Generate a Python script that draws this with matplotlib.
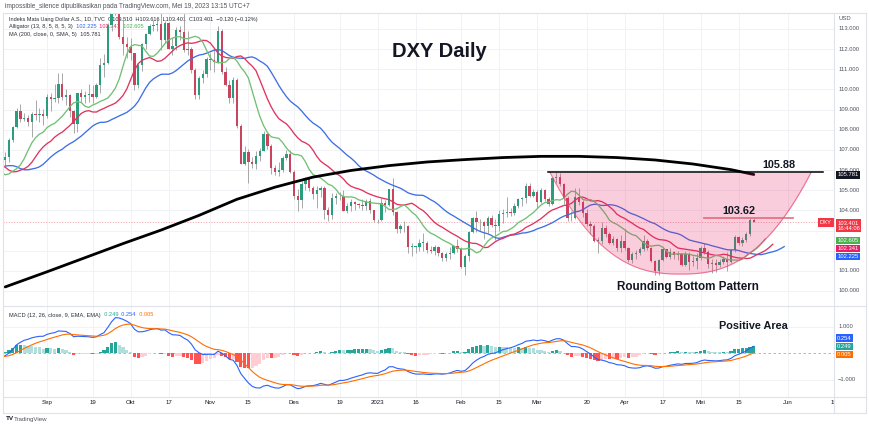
import numpy as np
import pandas as pd
import matplotlib
matplotlib.use("Agg")
import matplotlib.pyplot as plt
import matplotlib.transforms as mtrans
from matplotlib.lines import Line2D

plt.rcParams['font.family'] = ['Liberation Sans', 'DejaVu Sans']

# ---------------- data (O, H, L, C) ----------------
aug22 = [
    (105.70, 106.90, 105.50, 106.60), (106.60, 106.70, 106.10, 106.35), (106.35, 106.50, 106.00, 106.25),
    (106.30, 106.40, 104.65, 105.20), (105.20, 105.30, 104.65, 105.10), (105.10, 105.70, 104.95, 105.60),
    (105.60, 106.60, 105.40, 106.50), (106.50, 106.80, 106.20, 106.50), (106.50, 106.90, 106.20, 106.65),
    (106.65, 107.60, 106.40, 107.50), (107.50, 108.20, 107.40, 108.15), (108.15, 109.10, 108.10, 108.95),
    (108.95, 109.30, 108.40, 108.55), (108.55, 108.85, 108.45, 108.60), (108.60, 108.75, 108.20, 108.40),
    (108.40, 108.90, 107.65, 108.80), (108.80, 109.50, 108.50, 108.75), (108.75, 109.10, 108.40, 108.80),
    (108.80, 109.05, 108.25, 108.70)]
sep22 = [
    (108.70, 109.75, 108.60, 109.65), (109.65, 109.80, 108.95, 109.55), (109.55, 110.25, 109.40, 109.60),
    (109.60, 110.80, 109.35, 110.25), (110.25, 110.80, 109.50, 109.65), (109.65, 110.00, 109.25, 109.70),
    (109.70, 109.75, 108.65, 108.95), (108.95, 109.00, 107.85, 108.30), (108.30, 109.80, 107.90, 109.80),
    (109.80, 110.00, 109.40, 109.65), (109.65, 109.90, 109.35, 109.70), (109.70, 110.25, 109.40, 109.75),
    (109.75, 110.20, 109.35, 109.65), (109.65, 110.30, 109.60, 110.20), (110.20, 111.55, 109.80, 111.20),
    (111.20, 111.75, 110.60, 111.30), (111.30, 113.30, 111.25, 113.20), (113.20, 114.55, 112.90, 114.10),
    (114.10, 114.60, 113.70, 114.10), (114.10, 114.78, 112.50, 112.60), (112.60, 113.50, 111.70, 112.25),
    (112.25, 112.60, 111.55, 112.10)]
oct22 = [
    (112.10, 112.55, 111.45, 111.80), (111.80, 111.80, 109.95, 110.20), (110.20, 111.30, 110.05, 111.20),
    (111.20, 112.30, 110.90, 112.25), (112.25, 112.80, 112.00, 112.75), (112.75, 113.25, 112.70, 113.15),
    (113.15, 113.45, 112.90, 113.20), (113.20, 113.55, 112.90, 113.25), (113.25, 113.90, 111.95, 112.45),
    (112.45, 113.40, 112.30, 113.30), (113.30, 113.35, 112.00, 112.00), (112.00, 112.55, 111.70, 112.15),
    (112.15, 113.10, 111.95, 112.95), (112.95, 113.15, 112.45, 112.85), (112.85, 113.90, 111.85, 111.95),
    (111.95, 112.90, 111.70, 112.00), (112.00, 112.10, 110.80, 110.95), (110.95, 111.05, 109.55, 109.70),
    (109.70, 110.65, 109.55, 110.55), (110.55, 110.95, 110.30, 110.75), (110.75, 111.60, 110.60, 111.50)]
nov22 = [
    (111.50, 111.80, 110.95, 111.45), (111.45, 112.05, 110.85, 111.35), (111.35, 113.15, 111.30, 112.90),
    (112.90, 113.00, 110.75, 110.85), (110.85, 111.10, 110.15, 110.20), (110.20, 110.45, 109.35, 109.60),
    (109.60, 110.60, 109.35, 110.45), (110.45, 110.55, 108.10, 108.20), (108.20, 108.30, 106.30, 106.30),
    (106.30, 107.20, 106.25, 106.90), (106.90, 107.05, 105.35, 106.40), (106.40, 106.65, 106.10, 106.30),
    (106.30, 106.95, 106.05, 106.70), (106.70, 107.10, 106.45, 106.95), (106.95, 107.95, 106.95, 107.80),
    (107.80, 107.85, 107.05, 107.20), (107.20, 107.30, 105.80, 106.10), (106.10, 106.25, 105.75, 105.90),
    (105.90, 106.40, 105.70, 106.00), (106.00, 106.70, 105.90, 106.60), (106.60, 107.00, 106.50, 106.80),
    (106.80, 107.00, 105.85, 105.90)]
dec22 = [
    (105.90, 106.00, 104.55, 104.70), (104.70, 105.05, 103.95, 104.50), (104.50, 105.45, 104.10, 105.30),
    (105.30, 105.65, 105.00, 105.60), (105.60, 105.60, 104.95, 105.10), (105.10, 105.20, 104.55, 104.80),
    (104.80, 105.20, 104.10, 105.00), (105.00, 105.20, 104.65, 105.10), (105.10, 105.20, 103.55, 104.00),
    (104.00, 104.15, 103.45, 103.75), (103.75, 104.85, 103.55, 104.60), (104.60, 104.85, 104.30, 104.70),
    (104.70, 104.90, 104.50, 104.70), (104.70, 105.00, 103.95, 103.95), (103.95, 104.35, 103.85, 104.20),
    (104.20, 104.55, 103.95, 104.40), (104.40, 104.45, 104.00, 104.30), (104.30, 104.35, 104.10, 104.25),
    (104.25, 104.55, 104.00, 104.20), (104.20, 104.55, 104.00, 104.45), (104.45, 104.60, 103.85, 104.00),
    (104.00, 104.00, 103.40, 103.50)]
jan23 = [
    (103.50, 103.55, 103.35, 103.50), (103.50, 104.60, 103.45, 104.35), (104.35, 104.50, 103.90, 104.25),
    (104.25, 105.05, 104.20, 105.05), (105.05, 105.60, 103.75, 103.90), (103.90, 103.95, 102.90, 103.05),
    (103.05, 103.30, 102.90, 103.20), (103.20, 103.45, 102.95, 103.20), (103.20, 103.25, 101.90, 102.20),
    (102.20, 102.40, 101.75, 102.20), (102.20, 102.25, 101.90, 102.20), (102.20, 102.60, 102.00, 102.40),
    (102.40, 102.90, 102.00, 102.40), (102.40, 102.50, 101.90, 102.05), (102.05, 102.25, 101.90, 102.00),
    (102.00, 102.30, 101.80, 102.20), (102.20, 102.25, 101.75, 101.90), (101.90, 101.95, 101.50, 101.65),
    (101.65, 101.95, 101.50, 101.85), (101.85, 102.20, 101.60, 101.90), (101.90, 102.30, 101.85, 102.25),
    (102.25, 102.60, 101.95, 102.10)]
feb23 = [
    (102.10, 102.20, 101.15, 101.20), (101.20, 101.85, 100.80, 101.75), (101.75, 103.00, 101.50, 102.95),
    (102.95, 103.65, 102.90, 103.60), (103.60, 103.95, 102.95, 103.40), (103.40, 103.55, 103.00, 103.40),
    (103.40, 103.45, 102.60, 103.20), (103.20, 103.70, 102.90, 103.60), (103.60, 103.75, 103.15, 103.25),
    (103.25, 103.55, 102.55, 103.20), (103.20, 104.00, 103.00, 103.80), (103.80, 104.05, 103.35, 103.85),
    (103.85, 104.65, 103.65, 103.90), (103.90, 104.10, 103.70, 103.85), (103.85, 104.35, 103.75, 104.20),
    (104.20, 104.60, 104.10, 104.55), (104.55, 104.65, 104.20, 104.60), (104.60, 105.35, 104.35, 105.20),
    (105.20, 105.35, 104.65, 104.70), (104.70, 105.05, 104.65, 104.90)]
mar23 = [
    (104.90, 105.00, 104.10, 104.40), (104.40, 105.10, 104.35, 105.00), (105.00, 105.05, 104.45, 104.55),
    (104.55, 104.65, 104.20, 104.30), (104.30, 105.65, 104.25, 105.60), (105.60, 105.90, 105.35, 105.65),
    (105.65, 105.85, 105.20, 105.30), (105.30, 105.35, 104.30, 104.60), (104.60, 104.70, 103.45, 103.60),
    (103.60, 103.95, 103.45, 103.60), (103.60, 105.10, 103.55, 104.65), (104.65, 105.10, 104.25, 104.40),
    (104.40, 104.50, 103.65, 103.85), (103.85, 104.05, 103.20, 103.30), (103.30, 103.45, 102.85, 103.20),
    (103.20, 103.30, 102.45, 102.50), (102.50, 102.70, 101.90, 102.50), (102.50, 103.40, 102.35, 103.10),
    (103.10, 103.25, 102.70, 102.85), (102.85, 102.95, 102.35, 102.40), (102.40, 102.75, 102.30, 102.60),
    (102.60, 102.65, 102.00, 102.15), (102.15, 102.80, 101.95, 102.50)]
apr23 = [
    (102.50, 103.05, 102.05, 102.15), (102.15, 102.20, 101.45, 101.55), (101.55, 101.95, 101.40, 101.85),
    (101.85, 102.05, 101.60, 101.90), (101.90, 102.20, 101.80, 102.10), (102.10, 102.80, 102.00, 102.50),
    (102.50, 102.60, 102.05, 102.15), (102.15, 102.20, 101.45, 101.50), (101.50, 101.55, 100.80, 101.00),
    (101.00, 101.60, 100.80, 101.55), (101.55, 102.20, 101.50, 102.10), (102.10, 102.10, 101.65, 101.70),
    (101.70, 102.15, 101.60, 101.95), (101.95, 102.00, 101.60, 101.80), (101.80, 102.00, 101.55, 101.85),
    (101.85, 101.85, 101.25, 101.30), (101.30, 102.00, 101.25, 101.85), (101.85, 101.95, 101.05, 101.45),
    (101.45, 101.75, 101.25, 101.50), (101.50, 101.90, 101.10, 101.65)]
may23 = [
    (101.65, 102.25, 101.55, 102.15), (102.15, 102.40, 101.85, 101.95), (101.95, 102.05, 101.15, 101.35),
    (101.35, 101.60, 100.90, 101.40), (101.40, 101.60, 100.95, 101.30), (101.30, 101.60, 101.20, 101.45),
    (101.45, 101.75, 101.35, 101.60), (101.60, 101.95, 101.00, 101.45), (101.45, 102.10, 101.40, 102.05),
    (102.05, 102.80, 101.95, 102.70), (102.70, 102.75, 102.30, 102.40), (102.40, 102.70, 102.25, 102.55),
    (102.55, 102.95, 102.45, 102.85), (102.85, 103.60, 102.75, 103.52), (103.510, 103.616, 103.401, 103.401)]

first_day = '2022-08-05'
first_visible_day = '2022-08-17'

# 200-day SMA
ma200_dates = ['2022-08-17', '2022-09-01', '2022-09-15', '2022-09-29', '2022-10-13', '2022-10-27',
               '2022-11-10', '2022-11-24', '2022-12-08', '2022-12-22', '2023-01-05', '2023-01-19',
               '2023-02-02', '2023-02-16', '2023-03-02', '2023-03-16', '2023-03-30', '2023-04-13',
               '2023-04-27', '2023-05-11', '2023-05-19']
ma200_vals = [100.20, 100.95, 101.65, 102.35, 103.02, 103.75, 104.55, 105.15, 105.65, 105.98, 106.22,
              106.40, 106.52, 106.62, 106.68, 106.68, 106.62, 106.50, 106.30, 106.02, 105.78]

tick_dates = ['2022-09-01', '2022-09-19', '2022-10-03', '2022-10-17', '2022-11-01', '2022-11-15',
              '2022-12-01', '2022-12-19', '2023-01-02', '2023-01-16', '2023-02-01', '2023-02-15',
              '2023-03-01', '2023-03-20', '2023-04-03', '2023-04-17', '2023-05-01', '2023-05-15',
              '2023-06-01', '2023-06-19']
tick_labels = ['Sep', '19', 'Okt', '17', 'Nov', '15', 'Des', '19', '2023', '16', 'Feb', '15',
               'Mar', '20', 'Apr', '17', 'Mei', '15', 'Jun', '19']

price_ticks = list(range(100, 114))
price_labels_hidden = [102, 103]      # covered by the value boxes in the reference
macd_ticks = [-1, 1]

legend_main = 'Indeks Mata Uang Dollar A.S., 1D, TVC'
legend_ohlc = '  O103.510  H103.616  L103.401  C103.401  \u22120.120 (\u22120.12%)'
alligator_vals = ['102.225', '102.341', '102.605']
ma_val = '105.781'
macd_vals = ['0.249', '0.254', '0.005']
level_hi = 105.88
level_mid = 103.62
last_price = 103.401

# ---------------- prep ----------------
bars = [b for m in (aug22, sep22, oct22, nov22, dec22, jan23, feb23, mar23, apr23, may23) for b in m]
O = np.array([b[0] for b in bars]); Hi = np.array([b[1] for b in bars])
Lo = np.array([b[2] for b in bars]); C = np.array([b[3] for b in bars])
n = len(bars)
days = pd.bdate_range(first_day, '2023-06-30')
pos = np.arange(n)
sep1 = days.get_loc(pd.Timestamp('2022-09-01'))
vis0 = days.get_loc(pd.Timestamp(first_visible_day))

# geometry: 870x426 px
W, Hpx = 870, 426
PX_BAR = 3.8
def fx(x): return x / W
def fy(y): return 1 - y / Hpx

fig = plt.figure(figsize=(8.7, 4.26), dpi=100)
fig.patch.set_facecolor('white')

ax_p = fig.add_axes([fx(3), fy(306), fx(834) - fx(3), fy(13) - fy(306)])
ax_m = fig.add_axes([fx(3), fy(397), fx(834) - fx(3), fy(306) - fy(397)], sharex=ax_p)

xl = (sep1 - (47 - 3) / PX_BAR, sep1 + (834 - 47) / PX_BAR)
ax_p.set_xlim(*xl)
ax_p.set_ylim(113 - (306 - 29) / 20.15, 113 + (29 - 13) / 20.15)
ax_m.set_ylim(-(397 - 353) / 26.5, (353 - 306) / 26.5)

grid_c = '#f0f2f6'
tick_pos = days.get_indexer(pd.to_datetime(tick_dates))
for ax in (ax_p, ax_m):
    for s in ax.spines.values():
        s.set_visible(False)
    ax.set_xticks(tick_pos)
    ax.tick_params(length=0)
    ax.grid(True, color=grid_c, lw=0.7, zorder=0)
    ax.set_axisbelow(True)
ax_p.set_yticks(price_ticks)
ax_p.tick_params(labelbottom=False, labelleft=False)
ax_m.set_yticks(macd_ticks)
ax_m.tick_params(labelleft=False)
ax_m.set_xticklabels(tick_labels, fontsize=4.4, color='#131722')
ax_m.tick_params(axis='x', pad=2.2)

# ---------------- candles ----------------
up_c, dn_c, wick_c = '#2b9c7c', '#c9445d', '#9a9a9a'
vis = pos >= vis0 - 1
ax_p.vlines(pos[vis], Lo[vis], Hi[vis], color=wick_c, lw=0.6, zorder=2)
body_b = np.minimum(O, C)
body_h = np.maximum(np.abs(C - O), 0.03)
up = (C >= O) & vis
dn = (C < O) & vis
ax_p.bar(pos[up], body_h[up], bottom=body_b[up], width=0.64, color=up_c, lw=0, zorder=2.5)
ax_p.bar(pos[dn], body_h[dn], bottom=body_b[dn], width=0.64, color=dn_c, lw=0, zorder=2.5)

# ---------------- Alligator (SMMA of hl2, shifted) ----------------
hl2 = (Hi + Lo) / 2
def smma(src, length):
    out = np.empty_like(src)
    out[0] = src[0]
    for i in range(1, len(src)):
        out[i] = (out[i - 1] * (length - 1) + src[i]) / length
    return out
jaw, teeth, lips = smma(hl2, 13), smma(hl2, 8), smma(hl2, 5)
ax_p.plot(pos + 8, jaw, color='#3d6fe6', lw=0.95, zorder=3)
ax_p.plot(pos + 5, teeth, color='#e0345f', lw=0.95, zorder=3)
ax_p.plot(pos + 3, lips, color='#72c075', lw=0.95, zorder=3)

# 200 SMA
ma_pos = days.get_indexer(pd.to_datetime(ma200_dates))
ax_p.plot(ma_pos, ma200_vals, color='black', lw=2.0, zorder=3.2, solid_capstyle='round')

# current price dotted line
ax_p.axhline(last_price, color='#f23645', lw=0.6, ls=(0, (1.2, 2)), alpha=0.55, zorder=1)

# ---------------- drawings ----------------
x_l = sep1 + (550 - 47) / PX_BAR
x_r = sep1 + (811 - 47) / PX_BAR
xc, half = (x_l + x_r) / 2, (x_r - x_l) / 2
bottom_price = 100.84
xs = np.linspace(x_l, x_r, 300)
u = np.abs((xs - xc) / half)
arc = level_hi - (level_hi - bottom_price) * (1 - u ** 2.5)
ax_p.fill_between(xs, arc, level_hi, color='#e91e63', alpha=0.22, lw=0, zorder=4)
ax_p.plot(xs, arc, color='#e8527a', lw=0.8, alpha=0.75, zorder=4)
ax_p.plot([sep1 + (548 - 47) / PX_BAR, sep1 + (823 - 47) / PX_BAR], [level_hi, level_hi],
          color='black', lw=1.1, zorder=4.5, clip_on=False)
ax_p.plot([sep1 + (704 - 47) / PX_BAR, sep1 + (793 - 47) / PX_BAR], [level_mid, level_mid],
          color='#e06377', lw=1.3, alpha=0.85, zorder=4.5)

ax_p.annotate(f'{level_hi:.2f}', xy=(sep1 + (779 - 47) / PX_BAR, level_hi), xytext=(0, 1.5),
              textcoords='offset points', ha='center', va='bottom', fontsize=7.8, fontweight='bold',
              color='#131722', zorder=6)
ax_p.annotate(f'{level_mid:.2f}', xy=(sep1 + (739 - 47) / PX_BAR, level_mid), xytext=(0, 1.2),
              textcoords='offset points', ha='center', va='bottom', fontsize=7.8, fontweight='bold',
              color='#131722', zorder=6)
ax_p.text(sep1 + (439 - 47) / PX_BAR, 113 - (52 - 29) / 20.15, 'DXY Daily', ha='center', va='center',
          fontsize=14.5, fontweight='bold', color='#131722', zorder=6)
ax_p.text(sep1 + (688 - 47) / PX_BAR, 113 - (287 - 29) / 20.15, 'Rounding Bottom Pattern',
          ha='center', va='center', fontsize=8.4, fontweight='bold', color='#131722', zorder=6)

# ---------------- MACD ----------------
cs = pd.Series(C)
macd = cs.ewm(span=12, adjust=False).mean() - cs.ewm(span=26, adjust=False).mean()
signal = macd.ewm(span=9, adjust=False).mean()
hist = (macd - signal).values
prev = np.r_[hist[0], hist[:-1]]
hcol = np.where(hist >= 0, np.where(hist >= prev, '#26a69a', '#b2dfdb'),
                np.where(hist < prev, '#ff5252', '#ffcdd2'))
ax_m.bar(pos[vis], hist[vis], width=0.8, color=hcol[vis], lw=0, zorder=2)
ax_m.plot(pos[vis], macd.values[vis], color='#2962ff', lw=0.8, zorder=3)
ax_m.plot(pos[vis], signal.values[vis], color='#ff6d00', lw=0.8, zorder=3)
ax_m.axhline(0, color='#9598a1', lw=0.6, ls=(0, (3, 3)), alpha=0.8, zorder=1)
ax_m.text(sep1 + (753 - 47) / PX_BAR, (353 - 326) / 26.5, 'Positive Area', ha='center', va='center',
          fontsize=7.8, fontweight='bold', color='#131722', zorder=6)

# ---------------- legends ----------------
def seq_text(ax, x_px, y_px, parts, fs):
    t = ax.text(fx(x_px), fy(y_px), parts[0][0], color=parts[0][1], fontsize=fs,
                transform=fig.transFigure, va='center', ha='left', zorder=1)
    for s, c in parts[1:]:
        t = ax.annotate(s, xy=(1, 0.5), xycoords=t, va='center', ha='left', color=c,
                        fontsize=fs, zorder=1, annotation_clip=False)
    return t

lg = '#2a2e39'
seq_text(ax_p, 9, 19, [(legend_main, lg), (legend_ohlc, lg)], 4.0)
seq_text(ax_p, 9, 26.7, [('Alligator (13, 8, 5, 8, 5, 3)', lg), ('  ' + alligator_vals[0], '#2962ff'),
                         ('  ' + alligator_vals[1], '#e91e63'), ('  ' + alligator_vals[2], '#4caf50')], 4.1)
seq_text(ax_p, 9, 34.3, [('MA (200, close, 0, SMA, 5)', lg), ('  ' + ma_val, lg)], 4.1)
seq_text(ax_m, 9, 315, [('MACD (12, 26, close, 9, EMA, EMA)', lg), ('  ' + macd_vals[0], '#26a69a'),
                        ('  ' + macd_vals[1], '#2962ff'), ('  ' + macd_vals[2], '#ff6d00')], 4.1)

fig.text(fx(5), fy(6), 'impossible_silence dipublikasikan pada TradingView.com, Mei 19, 2023 13:15 UTC+7',
         fontsize=4.7, va='center', color='#50535e')
fig.text(fx(6), fy(419), 'TV', fontsize=4.6, fontweight='bold', va='center', color='#131722')
fig.text(fx(14), fy(419), 'TradingView', fontsize=4.4, va='center', color='#50535e')

# ---------------- price scale strips ----------------
def strip(y0, y1):
    a = fig.add_axes([fx(834), fy(y1), fx(866) - fx(834), fy(y0) - fy(y1)], zorder=5)
    a.set_xticks([]); a.set_yticks([])
    for s in a.spines.values():
        s.set_visible(False)
    a.set_facecolor('white')
    a.set_xlim(0, 1)
    return a

sp = strip(13, 306); sp.set_ylim(ax_p.get_ylim())
sm = strip(306, 397); sm.set_ylim(ax_m.get_ylim())
st = strip(397, 413)

tr_p = mtrans.blended_transform_factory(sp.transAxes, sp.transData)
tr_m = mtrans.blended_transform_factory(sm.transAxes, sm.transData)
lab_c = '#4c525e'
for v in price_ticks:
    if v in price_labels_hidden:
        continue
    sp.text(0.15, v, f'{v:.3f}', transform=tr_p, fontsize=4.2, va='center', ha='left', color=lab_c)
sp.text(0.15, 113 + (29 - 19) / 20.15, 'USD', transform=tr_p, fontsize=4.2, va='center', ha='left', color=lab_c)
for v in macd_ticks:
    sm.text(0.13 if v < 0 else 0.15, v, f'{v:.3f}'.replace('-', '\u2212'), transform=tr_m, fontsize=4.2,
            va='center', ha='left', color=lab_c)

def box(ax, tr, val, txt, fc, dy_px=0.0, tc='white'):
    ax.annotate(txt, xy=(0.1, val), xycoords=tr, xytext=(0, -dy_px * 0.72), textcoords='offset points',
                ha='left', va='center', fontsize=4.2, color=tc, linespacing=1.1,
                bbox=dict(boxstyle='square,pad=0.22', fc=fc, ec='none'), zorder=7, annotation_clip=False)

box(sp, tr_p, float(ma_val), ma_val, '#131722', 0.5)
box(sp, tr_p, last_price, '103.401\n16:44:06', '#f23645', 3.3)
box(sp, tr_p, float(alligator_vals[2]), alligator_vals[2], '#4caf50', 2.0)
box(sp, tr_p, float(alligator_vals[1]), alligator_vals[1], '#e91e63', 4.8)
box(sp, tr_p, float(alligator_vals[0]), alligator_vals[0], '#2962ff', 10.2)
box(sm, tr_m, float(macd_vals[1]), macd_vals[1], '#2962ff', -8.2)
box(sm, tr_m, float(macd_vals[0]), macd_vals[0], '#26a69a', 0.0)
box(sm, tr_m, float(macd_vals[2]), macd_vals[2], '#ff6d00', 1.6)
ax_p.annotate('DXY', xy=(1.0, last_price), xycoords=mtrans.blended_transform_factory(ax_p.transAxes, ax_p.transData),
              xytext=(-1.5, 0), textcoords='offset points', ha='right', va='center', fontsize=4.2,
              color='white', bbox=dict(boxstyle='square,pad=0.28', fc='#f23645', ec='none'),
              zorder=7, annotation_clip=False)

# ---------------- frame lines ----------------
bc = '#dfe2ea'
for (x0, y0, x1, y1) in [(3, 13, 866, 13), (3, 413, 866, 413), (3, 13, 3, 413), (866, 13, 866, 413),
                         (834, 13, 834, 413), (3, 306, 866, 306), (3, 397, 866, 397)]:
    fig.add_artist(Line2D([fx(x0), fx(x1)], [fy(y0), fy(y1)], transform=fig.transFigure,
                          color=bc, lw=0.8, zorder=10))

fig.savefig('out.png', dpi=100)
